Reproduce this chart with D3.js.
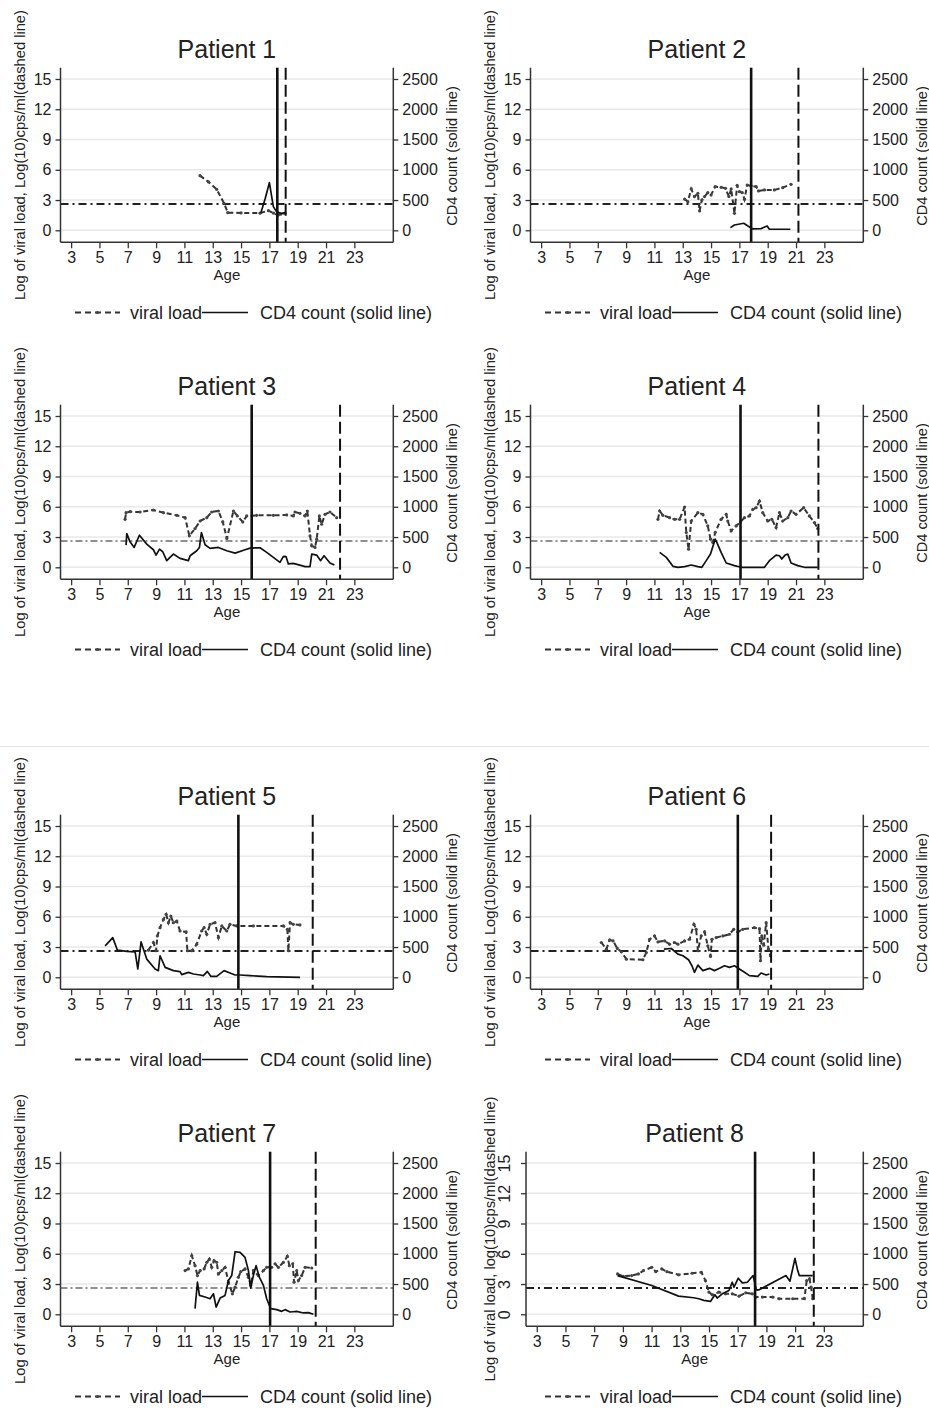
<!DOCTYPE html>
<html><head><meta charset="utf-8">
<script src="https://cdn.jsdelivr.net/npm/d3@7"></script>
<style>
body{margin:0;background:#fff}
svg{display:block}
text{font-family:"Liberation Sans",Arial,Helvetica,sans-serif;fill:#222}
</style>
</head><body>
<svg id="chart" width="929" height="1408"></svg>
<script>
// ---------- data ----------
const titles = ["Patient 1","Patient 2","Patient 3","Patient 4","Patient 5","Patient 6","Patient 7","Patient 8"];
const xTicks = [3,5,7,9,11,13,15,17,19,21,23];
const yTicks = [0,3,6,9,12,15];
const cd4Ticks = [0,500,1000,1500,2000,2500];
const threshold = 2.6;          // log10(400) detection line
const solidVLine = [17.56,17.83,15.75,17.08,14.81,16.89,17.05,18.21];
const dashedVLine = [18.15,21.17,21.99,22.58,20.06,19.24,20.27,22.3];

// viral load: [age, log10 cps/ml]
const p1Viral = [[12.1,5.42],[12.7,4.8],[13.28,4.06],[13.8,2.68],[14.06,1.75],[15.0,1.72],[16.34,1.7],[16.93,1.95],[17.3,1.7],[17.6,1.5],[17.8,1.6],[18.1,1.7]];
const p2Viral = [[13.13,3.1],[13.36,2.84],[13.6,4.1],[13.83,3.34],[14.07,3.67],[14.19,1.92],[14.35,3.0],[14.54,3.34],[14.77,3.73],[15.0,3.5],[15.29,4.33],[15.71,4.26],[16.02,4.16],[16.26,3.34],[16.42,4.1],[16.65,1.68],[16.84,4.46],[17.0,3.83],[17.2,3.73],[17.36,3.07],[17.55,4.49],[17.83,4.39],[18.18,4.33],[18.35,3.9],[18.77,4.0],[19.47,4.0],[20.06,4.23],[20.65,4.56]];
const p3Viral = [[6.81,4.76],[6.88,5.42],[7.16,5.51],[7.87,5.48],[8.81,5.68],[9.52,5.42],[10.46,5.15],[11.05,4.92],[11.35,3.12],[11.75,3.84],[12.11,4.59],[12.58,4.92],[12.93,5.48],[13.4,5.58],[13.71,4.5],[14.0,2.86],[14.46,5.58],[14.74,5.09],[15.12,4.5],[15.4,5.09],[16.1,5.15],[17.28,5.15],[18.22,5.19],[18.69,5.09],[18.81,5.48],[19.16,5.35],[19.52,5.09],[19.68,5.58],[19.87,3.12],[19.99,2.13],[20.22,1.97],[20.34,2.79],[20.53,5.09],[20.69,4.27],[20.93,5.25],[21.28,5.48],[21.75,4.92]];
const p4Viral = [[11.25,4.76],[11.37,5.58],[11.6,5.15],[12.07,4.92],[12.42,4.76],[12.78,4.76],[13.13,5.97],[13.25,3.45],[13.41,1.8],[13.6,4.59],[14.07,5.42],[14.42,5.25],[14.77,4.1],[14.96,2.79],[15.13,2.46],[15.29,3.45],[15.71,4.76],[16.07,5.25],[16.18,4.59],[16.42,3.61],[16.77,4.1],[17.08,4.5],[17.36,4.92],[17.71,5.09],[17.95,5.74],[18.18,5.91],[18.42,6.56],[18.65,5.42],[19.0,4.59],[19.29,4.76],[19.59,3.94],[19.83,5.42],[20.06,4.59],[20.42,4.92],[20.65,5.58],[21.0,5.25],[21.54,5.91],[21.94,5.09],[22.3,4.43],[22.53,3.84]];
const p5Viral = [[8.46,2.69],[8.81,3.45],[9.0,2.63],[9.09,4.1],[9.28,4.92],[9.52,5.74],[9.71,6.24],[9.87,5.42],[10.04,6.07],[10.22,5.42],[10.46,5.58],[10.69,4.59],[11.12,4.5],[11.21,2.63],[11.52,2.63],[11.87,3.28],[12.22,4.59],[12.39,4.92],[12.58,4.27],[12.81,5.25],[13.16,5.42],[13.4,3.94],[13.64,5.09],[13.99,4.59],[14.22,5.25],[14.69,5.09],[15.87,5.09],[17.99,5.09],[18.27,4.76],[18.34,2.63],[18.46,5.42],[18.69,5.25],[19.16,5.19]];
const p6Viral = [[7.25,3.45],[7.61,2.79],[7.84,3.71],[8.08,3.61],[8.38,2.86],[8.66,2.53],[9.02,1.8],[10.19,1.74],[10.43,2.46],[10.66,3.77],[11.01,4.1],[11.25,3.51],[11.72,3.61],[12.07,3.28],[12.42,3.45],[12.66,3.28],[13.13,3.61],[13.48,3.77],[13.79,5.25],[13.95,4.76],[14.07,2.63],[14.3,4.1],[14.54,4.5],[14.77,3.12],[14.96,2.07],[15.06,3.77],[15.36,3.94],[15.83,4.1],[16.3,4.27],[16.6,4.76],[16.89,4.5],[17.24,4.76],[18.06,4.92],[18.42,4.82],[18.49,1.64],[18.58,4.1],[18.72,3.18],[18.89,5.42],[19.05,2.79],[19.19,2.13]];
const p7Viral = [[11.05,4.33],[11.28,4.5],[11.52,5.81],[11.75,4.82],[11.92,3.84],[12.11,4.33],[12.39,4.5],[12.58,5.15],[12.76,5.48],[12.93,4.66],[13.09,5.32],[13.28,5.15],[13.4,4.0],[13.64,4.33],[13.87,4.66],[14.11,3.18],[14.39,2.03],[14.58,2.69],[14.81,3.67],[14.98,4.23],[15.28,4.5],[15.52,3.67],[15.68,2.86],[15.87,4.33],[16.22,3.84],[16.58,4.33],[16.81,4.66],[17.16,4.66],[17.4,5.0],[17.64,4.66],[17.99,5.15],[18.27,5.74],[18.41,4.82],[18.65,5.0],[18.74,3.18],[18.93,4.33],[19.05,3.35],[19.28,3.84],[19.52,4.66],[19.99,4.59]];
const p8Viral = [[8.63,4.0],[9.03,3.77],[9.61,3.84],[10.08,4.0],[10.43,4.33],[11.01,4.66],[11.29,4.23],[11.71,4.5],[12.07,4.23],[12.88,3.91],[13.82,4.07],[14.47,4.17],[14.75,3.35],[14.99,2.2],[15.22,1.94],[15.69,2.2],[16.15,2.03],[16.62,2.03],[17.09,1.8],[17.56,2.13],[18.02,2.03],[18.26,1.71],[18.72,1.71],[19.43,1.71],[19.89,1.54],[20.83,1.54],[21.64,1.54],[21.81,3.35],[22.0,3.51],[22.11,2.69],[22.23,1.54]];

// CD4 count: [age, cells/mm3]
const p1CD4 = [[16.4,290],[16.7,520],[17.0,787],[17.28,391],[17.5,308],[17.8,280],[18.1,290]];
const p2CD4 = [[16.37,44],[16.65,88],[17.31,116],[17.6,72],[17.95,22],[18.53,28],[18.96,72],[19.12,17],[20.6,17]];
const p3CD4 = [[6.88,367],[6.93,558],[7.16,421],[7.45,328],[7.82,530],[8.34,383],[8.81,290],[9.0,202],[9.24,300],[9.47,257],[9.75,110],[10.22,219],[10.69,148],[11.28,110],[11.4,191],[11.87,273],[12.06,328],[12.2,575],[12.46,372],[12.81,312],[13.4,328],[13.99,273],[14.58,235],[15.28,290],[15.64,317],[16.34,323],[16.81,247],[17.75,82],[17.99,180],[18.18,175],[18.34,55],[18.69,65],[19.28,27],[19.52,11],[19.87,11],[19.99,219],[20.34,202],[20.62,110],[20.86,191],[21.28,72],[21.59,38]];
const p4CD4 = [[11.37,246],[11.84,164],[12.31,16],[12.66,0],[13.13,11],[13.6,38],[14.07,11],[14.35,0],[14.66,110],[14.96,219],[15.29,465],[15.43,400],[15.71,246],[16.07,71],[16.65,27],[17.12,0],[18.77,0],[19.12,110],[19.59,202],[19.83,191],[19.99,137],[20.23,202],[20.42,218],[20.65,71],[21.12,27],[21.59,0],[22.53,0]];
const p5CD4 = [[5.4,520],[5.94,656],[6.27,448],[6.93,427],[7.52,421],[7.71,137],[7.94,585],[8.34,301],[8.93,137],[9.16,110],[9.28,356],[9.64,164],[10.22,110],[10.69,93],[10.81,44],[11.28,82],[11.64,55],[12.11,38],[12.34,27],[12.62,98],[12.86,16],[13.28,16],[13.8,110],[14.22,71],[14.58,38],[14.93,38],[15.64,27],[16.81,11],[19.16,0]];
const p6CD4 = [[11.67,465],[12.19,476],[12.66,383],[13.01,356],[13.41,290],[13.65,191],[13.83,82],[14.07,202],[14.42,110],[14.89,148],[15.24,110],[15.6,148],[15.95,191],[16.3,164],[16.65,191],[17.0,137],[17.36,82],[17.71,27],[18.3,16],[18.53,71],[18.89,38],[19.12,55]];
const p7CD4 = [[11.75,93],[11.92,530],[12.06,312],[12.46,285],[12.81,257],[13.05,339],[13.24,120],[13.52,268],[13.87,312],[14.11,558],[14.34,640],[14.58,1034],[14.93,1023],[15.28,940],[15.52,722],[15.68,432],[15.87,640],[16.06,804],[16.29,613],[16.58,477],[16.81,257],[17.09,93],[17.52,77],[17.87,49],[18.11,77],[18.46,38],[18.93,49],[19.4,22],[19.75,27],[20.11,0]];
const p8CD4 = [[8.63,640],[11.01,476],[12.88,300],[13.93,273],[14.29,257],[14.64,230],[15.1,213],[15.41,323],[15.57,268],[15.92,339],[16.39,394],[16.62,530],[16.74,448],[17.04,596],[17.32,520],[17.67,530],[18.07,640],[18.3,405],[18.49,405],[20.36,640],[20.64,547],[20.99,925],[21.18,722],[21.29,640],[22.23,640]];

const viralSeries = [p1Viral,p2Viral,p3Viral,p4Viral,p5Viral,p6Viral,p7Viral,p8Viral];
const cd4Series = [p1CD4,p2CD4,p3CD4,p4CD4,p5CD4,p6CD4,p7CD4,p8CD4];

// ---------- layout ----------
const colX = [0, 470];
const rowY = [0, 337, 747, 1084];
const xDomain = [2.25, 25.75];
const yDomain = [-1.19, 16.12];
const cdFactor = 2500/15;
const plotTop = 67.7, plotBottom = 242.3, plotRight = 393.3;
const axisColor = "#333";
const thinThreshold = [false,false,true,true,false,false,true,false];
const FONT = "'Liberation Sans',Arial,sans-serif";

const svg = d3.select("#chart");
svg.append("rect").attr("width",929).attr("height",1408).attr("fill","#fff");
// faint separator between the two figure halves
svg.append("line").attr("x1",0).attr("x2",929).attr("y1",746.5).attr("y2",746.5)
  .attr("stroke","#e6e6e6").attr("stroke-width",1);

titles.forEach((title, i) => {
  const col = i % 2, row = Math.floor(i / 2);
  const rotated = (i === 7);
  const plotLeft = rotated ? 56 : 60.5;
  const g = svg.append("g").attr("transform", `translate(${colX[col]},${rowY[row]})`);

  const x = d3.scaleLinear().domain(xDomain).range([plotLeft, plotRight]);
  const y = d3.scaleLinear().domain(yDomain).range([plotBottom, plotTop]);
  const yR = d3.scaleLinear().domain([yDomain[0]*cdFactor, yDomain[1]*cdFactor]).range([plotBottom, plotTop]);

  // grid
  g.append("g").selectAll("line").data(yTicks).join("line")
    .attr("x1", plotLeft).attr("x2", plotRight)
    .attr("y1", d => y(d)).attr("y2", d => y(d))
    .attr("stroke", "#e9e9e9").attr("stroke-width", 1.6);

  // threshold dash-dot line
  g.append("line")
    .attr("x1", plotLeft).attr("x2", plotRight)
    .attr("y1", y(threshold)).attr("y2", y(threshold))
    .attr("stroke", "#222").attr("stroke-width", thinThreshold[i] ? 1.1 : 2)
    .attr("stroke-dasharray", thinThreshold[i] ? "7,3,2,3" : "8,4,2,4");

  // viral load (dashed with small markers)
  const vLine = d3.line().x(d => x(d[0])).y(d => y(d[1]));
  g.append("path").datum(viralSeries[i])
    .attr("d", vLine).attr("fill","none")
    .attr("stroke","#333").attr("stroke-width",2)
    .attr("stroke-dasharray","5,3");
  g.append("g").selectAll("circle").data(viralSeries[i]).join("circle")
    .attr("cx", d => x(d[0])).attr("cy", d => y(d[1])).attr("r", 1.6)
    .attr("fill", "#444");

  // CD4 (solid)
  const cLine = d3.line().x(d => x(d[0])).y(d => yR(d[1]));
  g.append("path").datum(cd4Series[i])
    .attr("d", cLine).attr("fill","none")
    .attr("stroke","#111").attr("stroke-width",1.7).attr("stroke-linejoin","round");

  // vertical reference lines
  g.append("line")
    .attr("x1", x(solidVLine[i])).attr("x2", x(solidVLine[i]))
    .attr("y1", plotTop).attr("y2", plotBottom)
    .attr("stroke","#111").attr("stroke-width",2.6);
  g.append("line")
    .attr("x1", x(dashedVLine[i])).attr("x2", x(dashedVLine[i]))
    .attr("y1", plotTop).attr("y2", plotBottom)
    .attr("stroke","#111").attr("stroke-width",2)
    .attr("stroke-dasharray","12,5");

  // axes
  const xAxis = d3.axisBottom(x).tickValues(xTicks).tickSize(6).tickPadding(3).tickSizeOuter(0);
  const gx = g.append("g").attr("transform", `translate(0,${plotBottom})`).call(xAxis);
  gx.select(".domain").attr("stroke", axisColor).attr("stroke-width",1.5)
    .attr("d", `M${plotLeft},0H${plotRight}`);
  gx.selectAll(".tick line").attr("stroke", axisColor).attr("stroke-width",1.3);
  gx.selectAll(".tick text").attr("font-size",16).attr("fill","#222")
    .attr("font-family",FONT).attr("dy","0.72em");

  const yAxis = d3.axisLeft(y).tickValues(yTicks).tickSize(5).tickPadding(rotated?10:4).tickSizeOuter(0);
  const gy = g.append("g").attr("transform", `translate(${plotLeft},0)`).call(yAxis);
  gy.select(".domain").attr("stroke", axisColor).attr("stroke-width",1.5)
    .attr("d", `M0,${plotTop}V${plotBottom}`);
  gy.selectAll(".tick line").attr("stroke", axisColor).attr("stroke-width",1.3);
  gy.selectAll(".tick text").attr("font-size",16).attr("fill","#222")
    .attr("font-family",FONT);
  if (rotated) {
    gy.selectAll(".tick text")
      .attr("transform","rotate(-90)")
      .attr("x",0).attr("y",-16).attr("dy",0)
      .attr("text-anchor","middle");
  }

  const yAxisR = d3.axisRight(yR).tickValues(cd4Ticks).tickFormat(d3.format("d"))
    .tickSize(5).tickPadding(4).tickSizeOuter(0);
  const gr = g.append("g").attr("transform", `translate(${plotRight},0)`).call(yAxisR);
  gr.select(".domain").attr("stroke", axisColor).attr("stroke-width",1.5)
    .attr("d", `M0,${plotTop}V${plotBottom}`);
  gr.selectAll(".tick line").attr("stroke", axisColor).attr("stroke-width",1.3);
  gr.selectAll(".tick text").attr("font-size",16).attr("fill","#222")
    .attr("font-family",FONT);

  // title
  g.append("text").attr("x", (plotLeft + plotRight)/2).attr("y", 58)
    .attr("text-anchor","middle").attr("font-size",25).text(title);

  // axis titles
  g.append("text").attr("x", (plotLeft + plotRight)/2).attr("y", 280)
    .attr("text-anchor","middle").attr("font-size",15).text("Age");
  const leftTitle = rotated ? "Log of viral load, log(10)cps/ml(dashed line)"
                            : "Log of viral load, Log(10)cps/ml(dashed line)";
  g.append("text").attr("transform", `translate(25,155) rotate(-90)`)
    .attr("text-anchor","middle").attr("font-size",14.7).text(leftTitle);
  g.append("text").attr("transform", `translate(457,156) rotate(-90)`)
    .attr("text-anchor","middle").attr("font-size",14.6).text("CD4 count (solid line)");

  // legend
  const lg = g.append("g");
  lg.append("line").attr("x1",75).attr("x2",120).attr("y1",312.5).attr("y2",312.5)
    .attr("stroke","#333").attr("stroke-width",2).attr("stroke-dasharray","6,4");
  lg.append("circle").attr("cx",97.5).attr("cy",312.5).attr("r",1.6).attr("fill","#444");
  lg.append("text").attr("x",130).attr("y",319).attr("font-size",18).text("viral load");
  lg.append("line").attr("x1",202).attr("x2",248).attr("y1",312.5).attr("y2",312.5)
    .attr("stroke","#111").attr("stroke-width",1.7);
  lg.append("text").attr("x",260).attr("y",319).attr("font-size",18).text("CD4 count (solid line)");
});
</script>
</body></html>
